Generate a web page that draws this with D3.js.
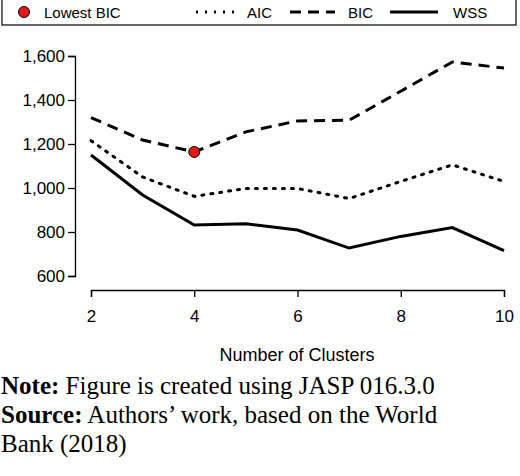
<!DOCTYPE html><html><head><meta charset="utf-8">
<script src="https://cdn.jsdelivr.net/npm/d3@7"></script>
<style>body{margin:0;background:#fff}</style></head><body><svg id="c" width="520" height="476"></svg>
<script>
const clusters=[2,3,4,5,6,7,8,9,10];
const bic=[1320,1218,1164,1255,1305,1308,1440,1573,1545];
const aic=[1215,1050,962,998,998,952,1030,1105,1030];
const wss=[1150,968,832,838,809,727,780,820,715];
const yTicks=[600,800,1000,1200,1400,1600];
const xTicks=[2,4,6,8,10];
const svg=d3.select("#c");
const x=d3.scaleLinear().domain([2,10]).range([91,504]);
const y=d3.scaleLinear().domain([600,1600]).range([276,56]);
const f="Liberation Sans, Arial, sans-serif";
svg.append("rect").attr("x",2).attr("y",-2).attr("width",514).attr("height",27).attr("fill","none").attr("stroke","#000").attr("stroke-width",1.2);
svg.append("circle").attr("cx",24).attr("cy",12).attr("r",5.5).attr("fill","#e0191b").attr("stroke","#000");
svg.append("text").attr("x",44).attr("y",18).text("Lowest BIC").attr("font-family",f).attr("font-size",15);
svg.append("line").attr("x1",196).attr("x2",236).attr("y1",12).attr("y2",12).attr("stroke","#000").attr("stroke-width",3).attr("stroke-dasharray","2,7");
svg.append("text").attr("x",247).attr("y",18).text("AIC").attr("font-family",f).attr("font-size",15);
svg.append("line").attr("x1",290).attr("x2",335).attr("y1",12).attr("y2",12).attr("stroke","#000").attr("stroke-width",3).attr("stroke-dasharray","11,7");
svg.append("text").attr("x",348).attr("y",18).text("BIC").attr("font-family",f).attr("font-size",15);
svg.append("line").attr("x1",390).attr("x2",438).attr("y1",12).attr("y2",12).attr("stroke","#000").attr("stroke-width",3);
svg.append("text").attr("x",453).attr("y",18).text("WSS").attr("font-family",f).attr("font-size",15);
const ya=svg.append("g").attr("transform","translate(75,0)").call(d3.axisLeft(y).tickValues(yTicks).tickFormat(d3.format(",")).tickSize(7));
const xa=svg.append("g").attr("transform","translate(0,290)").call(d3.axisBottom(x).tickValues(xTicks).tickSize(7));
[ya,xa].forEach(a=>{a.select(".domain").attr("stroke-width",1.3);a.selectAll("line").attr("stroke-width",1.3);a.selectAll("text").attr("font-family",f).attr("font-size",17).attr("fill","#000");});
xa.selectAll("text").attr("dy","1.3em");
const line=d3.line().x((d,i)=>x(clusters[i])).y(d=>y(d));
svg.append("path").attr("d",line(wss)).attr("fill","none").attr("stroke","#000").attr("stroke-width",3);
svg.append("path").attr("d",line(aic)).attr("fill","none").attr("stroke","#000").attr("stroke-width",3).attr("stroke-dasharray","2,7").attr("stroke-linecap","round");
svg.append("path").attr("d",line(bic)).attr("fill","none").attr("stroke","#000").attr("stroke-width",3).attr("stroke-dasharray","11,7");
svg.append("circle").attr("cx",x(4)).attr("cy",y(1164)).attr("r",5.5).attr("fill","#e0191b").attr("stroke","#000");
svg.append("text").attr("x",297).attr("y",361).attr("text-anchor","middle").text("Number of Clusters").attr("font-family",f).attr("font-size",18);
const tf="Liberation Serif, Times New Roman, serif";
const notes=[["Note:"," Figure is created using JASP 016.3.0",394],["Source:"," Authors’ work, based on the World",423],[""," Bank (2018)",452]];
notes.forEach(([b,t,yy])=>{const tx=svg.append("text").attr("x",1).attr("y",yy).attr("font-family",tf).attr("font-size",25);
if(b)tx.append("tspan").attr("font-weight","bold").text(b);tx.append("tspan").text(b?t:t.trim());});
</script></body></html>
